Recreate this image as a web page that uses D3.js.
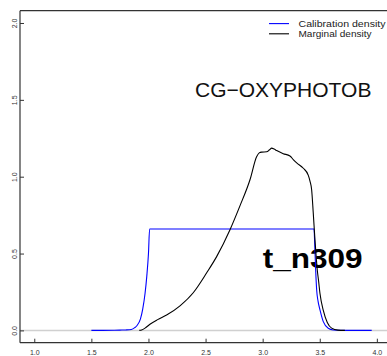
<!DOCTYPE html>
<html>
<head>
<meta charset="utf-8">
<script src="https://cdn.jsdelivr.net/npm/d3@7"></script>
<style>
  html, body { margin: 0; padding: 0; background: #fff; }
  svg { display: block; font-family: "Liberation Sans", Arial, Helvetica, sans-serif; }
</style>
</head>
<body>
<svg id="chart" width="387" height="356"></svg>
<script>
// Node age (x) and density (y) for the calibration prior and the marginal posterior
const calibX = [1.50, 1.60, 1.70, 1.75, 1.80, 1.85, 1.88, 1.90, 1.93, 1.95, 1.97, 1.985, 2.00, 2.01,
                3.45, 3.455, 3.46, 3.465, 3.473, 3.485, 3.502, 3.531, 3.574, 3.618, 3.70, 3.80, 3.955];
const calibY = [0.000, 0.000, 0.001, 0.002, 0.003, 0.006, 0.018, 0.032, 0.075, 0.14, 0.24, 0.35, 0.50, 0.66,
                0.66, 0.58, 0.48, 0.38, 0.263, 0.19, 0.134, 0.057, 0.014, 0.003, 0.000, 0.000, 0.000];

const margX = [1.92, 1.94, 1.97, 2.013, 2.08, 2.159, 2.276, 2.392, 2.51, 2.597, 2.714, 2.801, 2.889, 2.947,
               2.97, 2.991, 3.035, 3.06, 3.079, 3.10, 3.123, 3.18, 3.239, 3.27, 3.298, 3.356, 3.399, 3.415,
               3.429, 3.443, 3.458, 3.478, 3.49, 3.502, 3.531, 3.566, 3.604, 3.66, 3.72];
const margY = [0.000, 0.003, 0.015, 0.040, 0.070, 0.100, 0.160, 0.245, 0.375, 0.480, 0.655, 0.810, 0.980, 1.130,
               1.155, 1.160, 1.162, 1.175, 1.186, 1.180, 1.170, 1.150, 1.135, 1.110, 1.090, 1.055, 1.010, 0.970,
               0.915, 0.765, 0.590, 0.395, 0.320, 0.240, 0.130, 0.052, 0.015, 0.002, 0.000];

const xTicks = [1.0, 1.5, 2.0, 2.5, 3.0, 3.5, 4.0];
const yTicks = [0.0, 0.5, 1.0, 1.5, 2.0];

const legendLabels = ["Calibration density", "Marginal density"];
const legendColors = ["#0000ff", "#000000"];
const nodeName = "CG\u2212OXYPHOTOB";
const nodeLabel = "t_n309";

const svg = d3.select("#chart");

const x = d3.scaleLinear().domain([0.875, 4.25]).range([20, 405.4]);
const y = d3.scaleLinear().domain([-0.08, 2.08]).range([342.7, 10.7]);

// node name and node label (drawn beneath the curves)
svg.append("text")
  .attr("x", 195).attr("y", 96.7)
  .attr("font-size", 21).attr("fill", "#111")
  .text(nodeName);

svg.append("text")
  .attr("x", 262.7).attr("y", 267.8)
  .attr("font-size", 27).attr("font-weight", "bold").attr("fill", "#000")
  .attr("textLength", 100).attr("lengthAdjust", "spacingAndGlyphs")
  .text(nodeLabel);

// zero reference line
svg.append("line")
  .attr("x1", x(0.875)).attr("x2", 387)
  .attr("y1", y(0)).attr("y2", y(0))
  .attr("stroke", "#d0d0d0").attr("stroke-width", 1.5);

const line = d3.line().curve(d3.curveMonotoneX);

svg.append("path")
  .attr("d", line(calibX.map((v, i) => [x(v), y(calibY[i])])))
  .attr("fill", "none").attr("stroke", legendColors[0]).attr("stroke-width", 1.1);

svg.append("path")
  .attr("d", line(margX.map((v, i) => [x(v), y(margY[i])])))
  .attr("fill", "none").attr("stroke", legendColors[1]).attr("stroke-width", 1.1);

// plot frame (left, top, bottom)
const frame = svg.append("g").attr("stroke", "#333").attr("stroke-width", 1.2).attr("fill", "none");
frame.append("line").attr("x1", 20).attr("x2", 20).attr("y1", y(2.08)).attr("y2", y(-0.08));
frame.append("line").attr("x1", 20).attr("x2", 387).attr("y1", y(2.08)).attr("y2", y(2.08));
frame.append("line").attr("x1", 20).attr("x2", 387).attr("y1", y(-0.08)).attr("y2", y(-0.08));

// x axis: inward ticks
const xAxis = d3.axisBottom(x).tickValues(xTicks).tickSize(-4).tickPadding(7)
  .tickFormat(d3.format(".1f"));
const gx = svg.append("g").attr("transform", `translate(0,${y(-0.08)})`).call(xAxis);
gx.select(".domain").remove();
gx.selectAll(".tick line").attr("stroke", "#333");
gx.selectAll(".tick text").attr("font-size", 7).attr("fill", "#333")
  .attr("font-family", "Liberation Sans, Arial, sans-serif");

// y axis: inward ticks, rotated labels
const yAxis = d3.axisLeft(y).tickValues(yTicks).tickSize(-4).tickFormat(d3.format(".1f"));
const gy = svg.append("g").attr("transform", "translate(20,0)").call(yAxis);
gy.select(".domain").remove();
gy.selectAll(".tick line").attr("stroke", "#333");
gy.selectAll(".tick text")
  .attr("font-size", 7).attr("fill", "#333")
  .attr("font-family", "Liberation Sans, Arial, sans-serif")
  .attr("x", null).attr("dy", null)
  .attr("text-anchor", "middle")
  .attr("transform", "translate(-2.7,0) rotate(-90)");

// legend
const legendWidths = [87, 73];
const legend = svg.append("g");
legendLabels.forEach((lab, i) => {
  const ly = 23.6 + i * 10.2;
  legend.append("line")
    .attr("x1", 269).attr("x2", 289).attr("y1", ly).attr("y2", ly)
    .attr("stroke", legendColors[i]).attr("stroke-width", 1.1);
  legend.append("text")
    .attr("x", 298.5).attr("y", ly + 3.3)
    .attr("font-size", 8.8).attr("fill", "#222")
    .attr("textLength", legendWidths[i]).attr("lengthAdjust", "spacingAndGlyphs")
    .text(lab);
});
</script>
</body>
</html>
